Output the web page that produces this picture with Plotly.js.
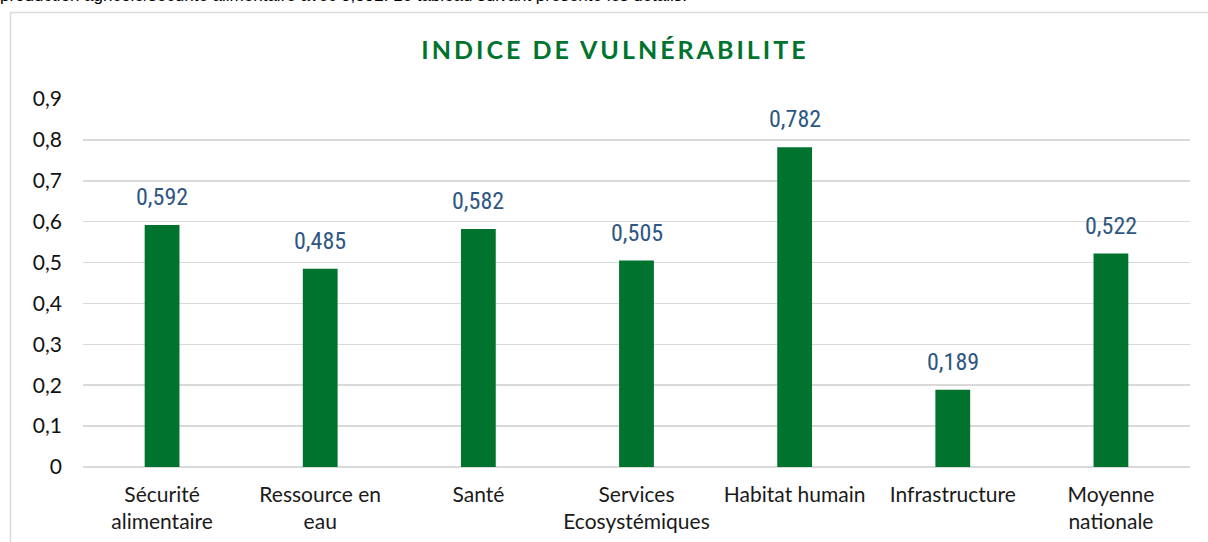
<!DOCTYPE html>
<html><head><meta charset="utf-8">
<script src="https://cdn.plot.ly/plotly-3.0.1.min.js"></script>
<style>html,body{margin:0;padding:0;background:#fff;}</style>
</head><body>
<div id="chart" style="width:1208px;height:542px;"></div>
<script>
const categories = ["Sécurité<br>alimentaire","Ressource en<br>eau","Santé","Services<br>Ecosystémiques","Habitat humain","Infrastructure","Moyenne<br>nationale"];
const values = [0.592, 0.485, 0.582, 0.505, 0.782, 0.189, 0.522];
const yTicks = [0,0.1,0.2,0.3,0.4,0.5,0.6,0.7,0.8,0.9];

const L=83, R=18, T=99, B=75, W=1208, H=542;
const pw = W-L-R, ph = H-T-B;
const px = x => (x-L)/pw;
const py = y => (H-B-y)/ph;

const labelAnnotations = categories.map((c,i)=>({
  x:c, y:values[i], xref:'x', yref:'y', showarrow:false, xanchor:'center', yanchor:'bottom', yshift:12,
  text: values[i].toFixed(3).replace('.',','),
  font:{family:'"Liberation Sans Narrow", "Roboto Condensed", Roboto, sans-serif', size:24, color:'#2E5783'}
}));

Plotly.newPlot('chart', [{
  type:'bar', x:categories, y:values,
  marker:{color:'#00732F', line:{color:'#ffffff', width:0}},
  width:0.22,
  hoverinfo:'skip'
}], {
  width:W, height:H, margin:{l:L,r:R,t:T,b:B,pad:0},
  separators:', ',
  paper_bgcolor:'#ffffff', plot_bgcolor:'#ffffff',
  showlegend:false,
  title:{text:'INDICE DE VULNÉRABILITE', font:{family:'Lato, sans-serif', size:25, color:'#00732F', weight:'bold'}, x:615/W, xref:'container', xanchor:'center', y:1-(50/H), yanchor:'middle'},
  xaxis:{type:'category', showgrid:false, zeroline:false, showline:false, ticks:'', ticklabelstandoff:13,
    tickfont:{family:'Lato, sans-serif', size:21, color:'#1a1a1a'}},
  yaxis:{range:[0,0.9], tickvals:yTicks, ticktext:yTicks.map(v=>String(v).replace('.',',')),
    showgrid:true, gridcolor:'#d9d9d9', gridwidth:1.5, zeroline:true, zerolinecolor:'#d9d9d9', zerolinewidth:1.5,
    showline:false, ticks:'', ticklabelstandoff:20,
    tickfont:{family:'Lato, sans-serif', size:21, color:'#111'}},
  shapes:[
    {type:'line', xref:'paper', yref:'paper', x0:px(10), x1:px(1220), y0:py(12.5), y1:py(12.5), line:{color:'#d9d9d9', width:1.5}},
    {type:'line', xref:'paper', yref:'paper', x0:px(10.5), x1:px(10.5), y0:py(12), y1:py(560), line:{color:'#d9d9d9', width:1.5}}
  ],
  annotations:[
    {xref:'paper', yref:'paper', x:px(-2), y:py(-4), xanchor:'left', yanchor:'middle', showarrow:false,
     text:'production agricole/sécurité alimentaire avec 0,592. Le tableau suivant présente les détails.',
     font:{family:'"Liberation Sans", Arial, sans-serif', size:17, color:'#000'}}
  ].concat(labelAnnotations)
}, {displayModeBar:false, staticPlot:true}).then(()=>{
  const t = document.querySelector('.gtitle');
  if (t) t.style.letterSpacing = '3px';
});
</script>
</body></html>
